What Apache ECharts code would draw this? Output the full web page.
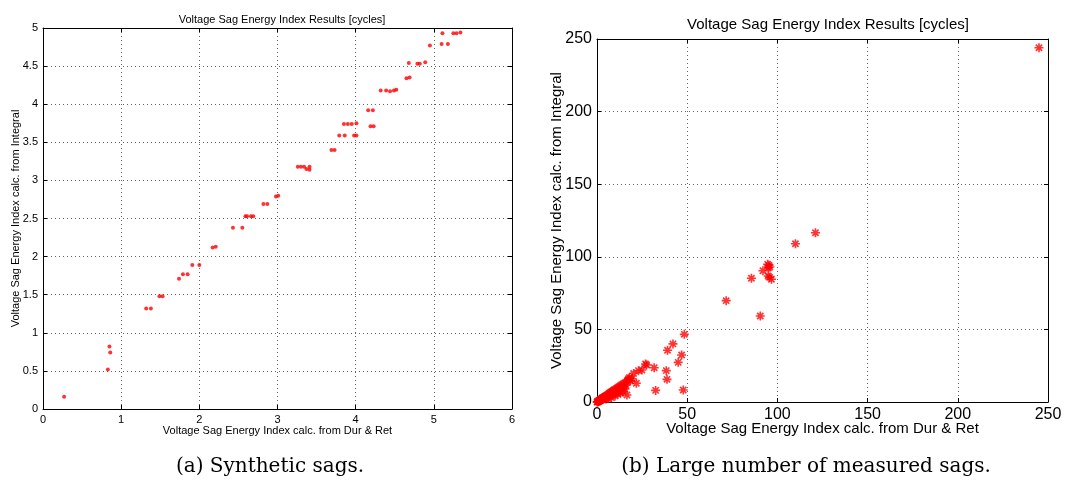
<!DOCTYPE html>
<html><head><meta charset="utf-8">
<script src="https://cdn.jsdelivr.net/npm/echarts@6/dist/echarts.min.js"></script>
<style>html,body{margin:0;padding:0;background:#fff}#c{width:1074px;height:486px}</style>
</head><body><div id="c"></div>
<script>
// Panel (a): synthetic sags
const synthX = [0.27,0.83,0.85,0.86,1.32,1.38,1.49,1.53,1.74,1.79,1.85,1.91,2.00,2.17,2.21,2.43,2.55,2.59,2.61,2.66,2.69,2.82,2.87,2.98,3.01,3.26,3.30,3.34,3.41,3.37,3.41,3.69,3.73,3.79,3.86,3.98,4.01,3.85,3.90,3.95,4.01,4.19,4.23,4.16,4.22,4.32,4.39,4.44,4.49,4.52,4.65,4.69,4.68,4.79,4.82,4.89,4.95,5.10,5.18,5.11,5.25,5.29,5.34];
const synthY = [0.16,0.52,0.82,0.74,1.32,1.32,1.48,1.48,1.71,1.77,1.77,1.89,1.89,2.12,2.13,2.38,2.38,2.53,2.53,2.53,2.53,2.69,2.69,2.79,2.80,3.18,3.18,3.18,3.18,3.15,3.14,3.40,3.40,3.59,3.59,3.59,3.59,3.74,3.74,3.74,3.75,3.71,3.71,3.92,3.92,4.18,4.18,4.17,4.18,4.19,4.34,4.35,4.54,4.53,4.53,4.55,4.77,4.79,4.79,4.93,4.93,4.93,4.94];
// Panel (b): measured sags
const measX = [245,121.1,110,95.3,95.8,94.6,95.0,92,85.6,94.9,95.6,96.7,71.6,90.5,48.4,42.1,39.1,46.9,45,31.7,38.4,38.8,32.5,47.8,26.9,23,24.9,20.3,21.8,16.6,
 0.1,0.2,0.4,0.6,0.8,1.0,1.2,1.5,1.7,2.0,2.2,2.5,2.8,3.0,3.2,3.5,3.8,4.0,4.3,4.5,4.8,5.0,5.3,5.6,5.9,6.2,6.5,6.8,7.0,7.3,7.6,8.0,8.3,8.6,9.0,9.3,9.6,10.0,10.4,10.8,11.2,11.6,12.0,12.4,12.8,13.2,13.6,14.0,14.5,15.0,15.5,16.0,16.5,17.0,17.5,18.0,13.0,10.0,8.0,6.0,11.5,14.5,18.5,19.5,27.5,1.0,2.0,3.0,9.0,12.0,15.5,7.0,5.0];
const measY = [244,116.6,109,94.1,93.0,94.8,92.5,90.4,85.2,86.8,85.9,84.5,69.8,59.2,46.6,40,35.6,32.4,27.3,23.6,21.6,15.6,8.0,8.3,26.2,21.6,22,19.7,12.9,4.8,
 0.0,0.1,0.3,0.2,0.6,0.5,1.0,0.8,1.4,1.2,1.9,1.5,2.4,1.8,2.9,2.2,3.3,2.6,3.8,3.0,4.2,3.3,4.6,3.6,5.1,4.0,5.6,4.5,6.2,4.9,6.7,5.3,7.2,5.8,7.8,6.4,8.4,7.0,9.0,7.5,9.6,8.0,10.4,8.8,11.0,9.4,11.8,10.0,12.4,10.8,13.2,11.6,14.0,15.0,16.0,16.8,6.0,4.2,3.0,2.4,5.5,7.0,14.5,16.0,25.5,0.9,1.9,2.8,5.0,7.5,9.0,4.0,2.0];

const pair = (xs, ys) => xs.map((x, i) => [x, ys[i]]);
const asterisk = 'path://M4.1 0h1.8v10h-1.8z M0 4.1h10v1.8h-10z M0.9 2.2 L2.2 0.9 L9.1 7.8 L7.8 9.1 Z M7.8 0.9 L9.1 2.2 L2.2 9.1 L0.9 7.8 Z';

const font = '"Liberation Sans", Arial, sans-serif';
const grid = () => ({
  splitLine: { show: true, lineStyle: { color: '#666', type: [1, 3], width: 1 } },
  axisLine: { show: true, onZero: false, lineStyle: { color: '#000', width: 1 } },
  axisTick: { show: true, inside: true, length: 4, lineStyle: { color: '#000' } },
});
function axes(gi, min, max, interval, fs, name, nameGap, dim) {
  const base = Object.assign({ type: 'value', gridIndex: gi, min, max, interval }, grid());
  const main = Object.assign({}, base, {
    position: dim === 'x' ? 'bottom' : 'left',
    axisLabel: { color: '#000', fontSize: fs, fontFamily: font, margin: 5, formatter: v => String(v) },
    name, nameLocation: 'middle', nameGap, nameMoveOverlap: false,
    nameTextStyle: { color: '#000', fontSize: fs, fontFamily: font }
  });
  const opp = Object.assign({}, base, {
    position: dim === 'x' ? 'top' : 'right',
    axisLabel: { show: false }, splitLine: { show: false }
  });
  return [main, opp];
}
const lx = axes(0, 0, 6, 1, 11, 'Voltage Sag Energy Index calc. from Dur & Ret', 16, 'x');
const ly = axes(0, 0, 5, 0.5, 11, 'Voltage Sag Energy Index calc. from Integral', 22, 'y');
const rx = axes(1, 0, 250, 50, 16, 'Voltage Sag Energy Index calc. from Dur & Ret', 19, 'x');
const ry = axes(1, 0, 250, 50, 16, 'Voltage Sag Energy Index calc. from Integral', 33, 'y');
rx[0].nameTextStyle.fontSize = 15; ry[0].nameTextStyle.fontSize = 15;

const chart = echarts.init(document.getElementById('c'), null, { renderer: 'canvas' });
chart.setOption({
  animation: false,
  backgroundColor: '#fff',
  title: [
    { text: 'Voltage Sag Energy Index Results [cycles]', left: 277, top: 9, textAlign: 'center',
      textStyle: { fontSize: 11, fontWeight: 'normal', color: '#000', fontFamily: font } },
    { text: 'Voltage Sag Energy Index Results [cycles]', left: 823, top: 12, textAlign: 'center',
      textStyle: { fontSize: 15, fontWeight: 'normal', color: '#000', fontFamily: font } }
  ],
  grid: [
    { left: 43, right: 562, top: 28, bottom: 77, containLabel: false },
    { left: 597, right: 26, top: 39, bottom: 84, containLabel: false }
  ],
  xAxis: [lx[0], lx[1], rx[0], rx[1]],
  yAxis: [ly[0], ly[1], ry[0], ry[1]],
  series: [
    { type: 'scatter', xAxisIndex: 0, yAxisIndex: 0, data: pair(synthX, synthY),
      symbol: 'circle', symbolSize: 4, itemStyle: { color: '#ff0000' } },
    { type: 'scatter', xAxisIndex: 2, yAxisIndex: 2, data: pair(measX, measY),
      symbol: asterisk, symbolSize: 9, itemStyle: { color: '#ff0000' } }
  ],
  graphic: [
    { type: 'text', x: 270, y: 467, style: { text: '(a) Synthetic sags.', fill: '#000', font: '20px "DejaVu Serif", "Liberation Serif", serif', textAlign: 'center', textVerticalAlign: 'middle' } },
    { type: 'text', x: 806, y: 467, style: { text: '(b) Large number of measured sags.', fill: '#000', font: '20px "DejaVu Serif", "Liberation Serif", serif', textAlign: 'center', textVerticalAlign: 'middle' } }
  ]
});
</script></body></html>
